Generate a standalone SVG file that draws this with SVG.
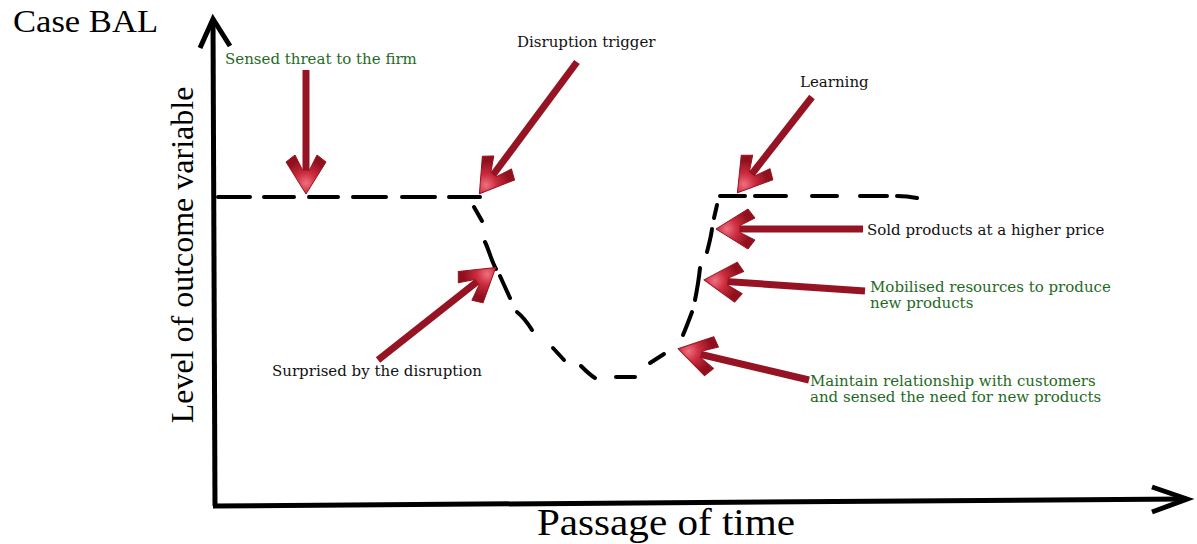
<svg xmlns="http://www.w3.org/2000/svg" xmlns:xlink="http://www.w3.org/1999/xlink" width="1197" height="544" viewBox="0 0 1197 544">
  <style>
    .axis { fill: none; stroke: #000; stroke-width: 5; stroke-linecap: butt; stroke-linejoin: miter; }
    .dash { fill: none; stroke: #000; stroke-width: 4; stroke-linecap: round; }
    .shaft { fill: none; stroke: #951322; stroke-width: 7; stroke-linecap: butt; }
    .lbl { font-family: "DejaVu Serif", "Liberation Serif", serif; font-size: 15px; }
    .blk { fill: #111; }
    .grn { fill: #1f6a1f; }
    .big { font-family: "Liberation Serif", "Times New Roman", serif; fill: #000; }
  </style>
  <defs>
    <radialGradient id="headShade" cx="0.72" cy="0.5" r="0.6">
      <stop offset="0" stop-color="#ef7080"/>
      <stop offset="0.45" stop-color="#cc2c3e"/>
      <stop offset="1" stop-color="#90101d"/>
    </radialGradient>
    <!-- arrowhead pointing along +x, tip at the origin -->
    <path id="head" d="M1 0 L-31 -20 L-38 -11 L-23 -3.5 L-23 3.5 L-38 11 L-31 20 Z" fill="url(#headShade)" stroke="#951322" stroke-width="1" stroke-linejoin="round"/>
  </defs>

  <rect width="1197" height="544" fill="#fff"/>

  <!-- title -->
  <text class="big" x="13" y="32" font-size="32" textLength="145" lengthAdjust="spacingAndGlyphs">Case BAL</text>

  <!-- axes -->
  <g id="axes">
    <path class="axis" d="M215 506 L213 21"/>
    <path class="axis" d="M200 48 L213 19 L230 46"/>
    <path class="axis" d="M213 506 L1185 499"/>
    <path class="axis" d="M1152 487 L1187 499 L1152 512"/>
    <text class="big" font-size="32" text-anchor="middle" transform="translate(193 255) rotate(-90)">Level of outcome variable</text>
    <text class="big" x="537" y="535" font-size="37" textLength="258" lengthAdjust="spacingAndGlyphs">Passage of time</text>
  </g>

  <!-- outcome curve -->
  <g id="connectors">
    <path class="dash" d="M218 197 L250 197 M264 197 L294 197 M309 197 L338 197 M353 197 L386 197 M402 197 L435 197 M449 197 L480 197"/>
    <path class="dash" d="M474 207 L482 221"/>
    <path class="dash" d="M485 242 C489 250 491 260 496 269"/>
    <path class="dash" d="M500 276 L510 298"/>
    <path class="dash" d="M517 312 C522 316 527 322 532 330"/>
    <path class="dash" d="M553 348 L564 360"/>
    <path class="dash" d="M581 366 C586 371 590 375 595 378"/>
    <path class="dash" d="M616 377 L635 377"/>
    <path class="dash" d="M650 363 L664 354"/>
    <path class="dash" d="M683 335 C686 328 689 320 692 312"/>
    <path class="dash" d="M695 300 C697 290 699 278 700 268"/>
    <path class="dash" d="M707 252 C709 244 711 237 712 229"/>
    <path class="dash" d="M714 218 L717 205"/>
    <path class="dash" d="M720 196 L745 196 M755 196 L786 196 M812 196 L837 196 M860 196 L887 196 M897 196 C905 196 912 197 917 198"/>
  </g>

  <g id="sensed-threat">
    <text class="lbl grn" x="225" y="64">Sensed threat to the firm</text>
    <path class="shaft" d="M306 70 L306 172"/>
    <use xlink:href="#head" transform="translate(306 193) rotate(90)"/>
  </g>

  <g id="disruption-trigger">
    <text class="lbl blk" x="517" y="47">Disruption trigger</text>
    <path class="shaft" d="M577 62 L493 175"/>
    <use xlink:href="#head" transform="translate(480 193) rotate(126.5)"/>
  </g>

  <g id="learning">
    <text class="lbl blk" x="800" y="87">Learning</text>
    <path class="shaft" d="M812 97 L751 175"/>
    <use xlink:href="#head" transform="translate(738 192) rotate(127.9)"/>
  </g>

  <g id="surprised">
    <text class="lbl blk" x="272" y="376">Surprised by the disruption</text>
    <path class="shaft" d="M378 360 L478 281"/>
    <use xlink:href="#head" transform="translate(495 268) rotate(-38.2)"/>
  </g>

  <g id="sold-products">
    <text class="lbl blk" x="867" y="235">Sold products at a higher price</text>
    <path class="shaft" d="M863 229 L738 229"/>
    <use xlink:href="#head" transform="translate(717 229) rotate(180)"/>
  </g>

  <g id="mobilised-resources">
    <text class="lbl grn" x="870" y="292">Mobilised resources to produce</text>
    <text class="lbl grn" x="870" y="308">new products</text>
    <path class="shaft" d="M865 291 L726 281.5"/>
    <use xlink:href="#head" transform="translate(705 280) rotate(183.9)"/>
  </g>

  <g id="maintain-relationship">
    <text class="lbl grn" x="810" y="386">Maintain relationship with customers</text>
    <text class="lbl grn" x="810" y="402">and sensed the need for new products</text>
    <path class="shaft" d="M809 380 L699 354"/>
    <use xlink:href="#head" transform="translate(679 349) rotate(193.4)"/>
  </g>
</svg>
